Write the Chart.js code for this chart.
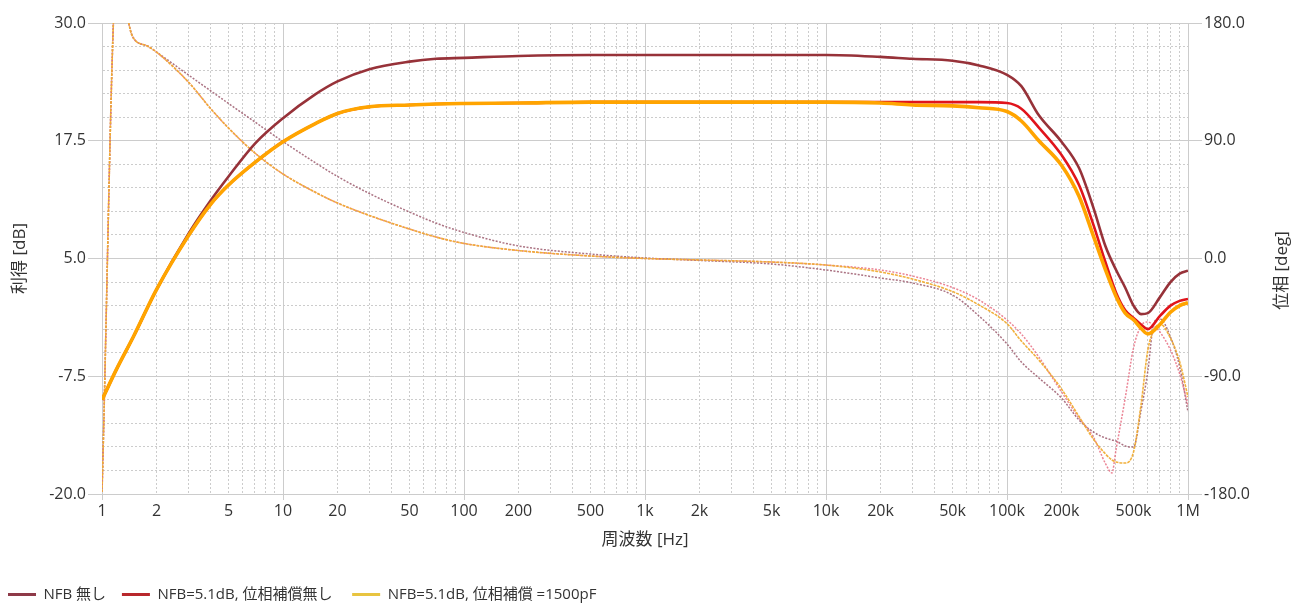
<!DOCTYPE html>
<html lang="ja">
<head>
<meta charset="utf-8">
<title>周波数特性</title>
<script src="https://cdn.jsdelivr.net/npm/chart.js@4/dist/chart.umd.min.js"></script>
<style>
  html, body { margin: 0; padding: 0; background: #ffffff; }
  #wrap { position: relative; width: 1293px; height: 603px; }
</style>
</head>
<body>
<div id="wrap"><canvas id="bode" width="1293" height="603"></canvas></div>
<script>
// ---- measured data -------------------------------------------------------
const seriesNames = ['NFB 無し', 'NFB=5.1dB, 位相補償無し', 'NFB=5.1dB, 位相補償 =1500pF'];

// gain [dB]
const gainFreq = [1, 1.2, 1.5, 2, 3, 4, 5, 7, 10, 15, 20, 30, 50, 70, 100, 200, 500,
  1e3, 2e3, 5e3, 1e4, 2e4, 3e4, 5e4, 7e4, 1e5, 1.2e5, 1.5e5, 2e5, 2.5e5, 3e5, 3.5e5,
  4e5, 4.5e5, 5e5, 5.5e5, 6e5, 7e5, 8e5, 9e5, 1e6];
const gainNoNfb = [-10.0, -6.8, -3.2, 1.7, 7.6, 11.2, 13.7, 17.2, 19.9, 22.4, 23.8, 25.1, 25.9, 26.2,
  26.3, 26.5, 26.6, 26.6, 26.6, 26.6, 26.6, 26.4, 26.2, 26.0, 25.5,
  24.5, 23.3, 20.2, 17.4, 14.6, 10.4, 6.3, 3.8, 1.9, 0.0, -0.9, -0.8, 0.9, 2.5, 3.4, 3.7];
const gainNfb = [-10.0, -6.8, -3.2, 1.7, 7.4, 10.8, 12.8, 15.2, 17.4, 19.3, 20.4, 21.1, 21.3, 21.4,
  21.45, 21.5, 21.6, 21.6, 21.6, 21.6, 21.6, 21.6, 21.6, 21.6, 21.6,
  21.5, 20.9, 18.9, 16.0, 12.8, 8.6, 4.6, 1.4, -0.5, -1.3, -2.0, -2.5, -1.1, 0.0, 0.5, 0.7];
const gainNfbComp = [-10.0, -6.8, -3.2, 1.7, 7.4, 10.8, 12.8, 15.2, 17.4, 19.3, 20.4, 21.1, 21.3, 21.4,
  21.45, 21.5, 21.6, 21.6, 21.6, 21.6, 21.6, 21.5, 21.3, 21.2, 21.0,
  20.6, 19.6, 17.5, 14.9, 11.6, 7.4, 3.8, 1.0, -0.8, -1.5, -2.4, -3.0, -2.0, -0.7, 0.0, 0.3];

// phase [deg]
const phaseFreq = [1, 1.21, 1.47, 1.78, 2, 3, 4, 5, 7, 10, 15, 20, 30, 50, 70, 100, 200, 500,
  1e3, 2e3, 5e3, 1e4, 2e4, 3e4, 5e4, 7e4, 1e5, 1.2e5, 1.5e5, 2e5, 2.5e5, 3e5, 3.5e5, 3.8e5,
  4e5, 4.5e5, 5e5, 5.5e5, 6e5, 6.5e5, 7e5, 8e5, 9e5, 1e6];
const phaseNoNfb = [-178.5, 220.5, 170.1, 162.4, 157.8, 140.3, 128.0, 118.5, 104.3, 89.4, 73.4, 62.7,
  49.7, 35.5, 27.1, 19.9, 9.6, 3.4, 0.4, -1.5, -4.2, -8.8, -14.9, -18.7, -27.9, -43.9,
  -65.3, -79.1, -91.3, -106.6, -123.4, -132.6, -137.2, -138.7, -139.5, -143.3, -144.1,
  -116.2, -86.0, -48.5, -46.2, -60.0, -82.9, -117.3];
const phaseNfb = [-178.5, 220.5, 170.1, 162.4, 157.8, 134.9, 114.3, 99.7, 80.6, 64.6, 50.8, 42.4,
  32.9, 22.5, 16.4, 11.5, 6.1, 1.9, 0.0, -1.1, -2.7, -5.0, -8.8, -13.4, -22.2, -31.7,
  -47.0, -57.7, -75.3, -102.0, -121.9, -136.4, -156.7, -163.9, -146.4, -106.6, -68.4,
  -51.6, -48.5, -51.6, -56.2, -69.9, -88.3, -112.0];
const phaseNfbComp = [-178.5, 220.5, 170.1, 162.4, 157.8, 134.9, 114.3, 99.7, 80.6, 64.6, 50.8, 42.4,
  32.9, 22.5, 16.4, 11.5, 6.1, 1.9, 0.0, -1.1, -2.7, -5.0, -10.3, -15.7, -25.3, -35.5,
  -49.8, -63.1, -77.6, -99.7, -120.8, -138.0, -149.4, -154.0, -155.5, -156.3, -147.9,
  -112.0, -69.9, -54.6, -50.1, -60.8, -79.1, -105.9];

// axis labels
const freqLabelValues = [1, 2, 5, 10, 20, 50, 100, 200, 500, 1e3, 2e3, 5e3, 1e4, 2e4, 5e4, 1e5, 2e5, 5e5, 1e6];
const freqLabelTexts = ['1', '2', '5', '10', '20', '50', '100', '200', '500', '1k', '2k', '5k',
  '10k', '20k', '50k', '100k', '200k', '500k', '1M'];
const gainLabelValues = [-20, -7.5, 5, 17.5, 30];
const phaseLabelValues = [-180, -90, 0, 90, 180];

// ---- styling -------------------------------------------------------------
const FONT = "'Open Sans', 'Noto Sans CJK JP', sans-serif";
const TEXT = '#333333';
const GRID = '#cccccc';
const NONE = 'rgba(0,0,0,0)';
const legendColors = ['#8e3a48', '#b8282c', '#e8c440'];
const legendGaps = ['  ', '   ', ''];

const pts = (xs, ys) => xs.map((x, i) => ({ x, y: ys[i] }));
const near = (v, list) => list.some(a => Math.abs(a - v) <= 1e-6 * Math.max(1, Math.abs(a)));
const isDecade = v => Math.abs(Math.log10(v) - Math.round(Math.log10(v))) < 1e-9;

// grid positions: 1..9 per decade on x, 5 subdivisions per labelled step on y
const freqGrid = [];
for (let e = 0; e < 6; e++) for (let m = 1; m < 10; m++) freqGrid.push(+(m * Math.pow(10, e)).toPrecision(6));
freqGrid.push(1e6);
const gainGrid = Array.from({ length: 21 }, (_, i) => -20 + 2.5 * i);
const phaseGrid = Array.from({ length: 21 }, (_, i) => -180 + 18 * i);

const line = (label, data, axis, color, width, order, dash) => ({
  label, data, yAxisID: axis, borderColor: color, backgroundColor: color,
  borderWidth: width, borderDash: dash || [], order,
  pointRadius: 0, pointHoverRadius: 0, fill: false, cubicInterpolationMode: 'monotone'
});

// vertical phase title reading bottom-to-top beside the right axis
const phaseTitle = {
  id: 'phaseTitle',
  afterDraw(chart) {
    const s = chart.scales.yPhase;
    const ctx = chart.ctx;
    ctx.save();
    ctx.translate(s.right - 11, (s.top + s.bottom) / 2 + 12);
    ctx.rotate(-Math.PI / 2);
    ctx.textAlign = 'center';
    ctx.textBaseline = 'middle';
    ctx.fillStyle = TEXT;
    ctx.font = '17px ' + FONT;
    ctx.fillText('位相 [deg]', 0, 0);
    ctx.restore();
  }
};

new Chart(document.getElementById('bode'), {
  type: 'line',
  data: {
    datasets: [
      line(seriesNames[0], pts(gainFreq, gainNoNfb), 'yGain', '#973239', 2.6, 3),
      line(seriesNames[1], pts(gainFreq, gainNfb), 'yGain', '#e0141b', 2.6, 2),
      line(seriesNames[2], pts(gainFreq, gainNfbComp), 'yGain', '#ffa400', 3.6, 1),
      line(seriesNames[0] + ' 位相', pts(phaseFreq, phaseNoNfb), 'yPhase', 'rgba(150,80,100,0.8)', 1.5, 6, [2, 1.5]),
      line(seriesNames[1] + ' 位相', pts(phaseFreq, phaseNfb), 'yPhase', 'rgba(232,110,130,0.85)', 1.5, 5, [2, 1.5]),
      line(seriesNames[2] + ' 位相', pts(phaseFreq, phaseNfbComp), 'yPhase', 'rgba(240,172,50,0.95)', 1.6, 4, [3, 1])
    ]
  },
  options: {
    responsive: false,
    animation: false,
    events: [],
    layout: { padding: { top: 23, left: 0, right: 0, bottom: 0 } },
    plugins: {
      tooltip: { enabled: false },
      legend: {
        position: 'bottom',
        align: 'start',
        maxHeight: 24,
        labels: {
          boxWidth: 28,
          boxHeight: 3,
          padding: 8,
          color: TEXT,
          font: { family: FONT, size: 15 },
          generateLabels(chart) {
            const items = Chart.defaults.plugins.legend.labels.generateLabels(chart);
            return items
              .filter(it => it.datasetIndex < 3)
              .sort((a, b) => a.datasetIndex - b.datasetIndex)
              .map(it => Object.assign(it, {
                text: seriesNames[it.datasetIndex] + legendGaps[it.datasetIndex],
                fillStyle: legendColors[it.datasetIndex],
                strokeStyle: legendColors[it.datasetIndex],
                lineWidth: 0
              }));
          }
        }
      }
    },
    scales: {
      x: {
        type: 'logarithmic',
        min: 1,
        max: 1e6,
        afterBuildTicks(s) { s.ticks = freqGrid.map(v => ({ value: v })); },
        afterFit(s) { s.height = 603 - 494 - (s.chart.legend ? s.chart.legend.height : 0); },
        ticks: {
          autoSkip: false,
          maxRotation: 0,
          padding: 2,
          color: TEXT,
          font: { family: FONT, size: 16 },
          callback(v) {
            const i = freqLabelValues.findIndex(a => Math.abs(a - v) <= 1e-6 * a);
            return i >= 0 ? freqLabelTexts[i] : '';
          }
        },
        grid: {
          color: GRID,
          lineWidth: 1,
          tickLength: 6,
          tickColor: c => (c.tick && isDecade(c.tick.value)) ? GRID : NONE
        },
        border: { color: GRID, dash: c => (c.tick && !isDecade(c.tick.value)) ? [2, 2] : [] },
        title: { display: true, text: '周波数 [Hz]', color: TEXT, font: { family: FONT, size: 17 }, padding: { top: 0, bottom: 29 } }
      },
      yGain: {
        type: 'linear',
        position: 'left',
        min: -20,
        max: 30,
        afterBuildTicks(s) { s.ticks = gainGrid.map(v => ({ value: v })); },
        afterFit(s) { s.width = 102; },
        ticks: {
          autoSkip: false,
          padding: 2,
          color: TEXT,
          font: { family: FONT, size: 16 },
          callback: v => near(v, gainLabelValues) ? Number(v).toFixed(1) : ''
        },
        grid: {
          color: GRID,
          lineWidth: 1,
          tickLength: 14,
          tickColor: c => (c.tick && near(c.tick.value, gainLabelValues)) ? GRID : NONE
        },
        border: { color: GRID, dash: c => (c.tick && !near(c.tick.value, gainLabelValues)) ? [2, 2] : [] },
        title: { display: true, text: '利得 [dB]', color: TEXT, font: { family: FONT, size: 17 }, padding: { top: 10, bottom: 0 } }
      },
      yPhase: {
        type: 'linear',
        position: 'right',
        min: -180,
        max: 180,
        afterBuildTicks(s) { s.ticks = phaseGrid.map(v => ({ value: v })); },
        afterFit(s) { s.width = 105; },
        ticks: {
          autoSkip: false,
          padding: 2,
          color: TEXT,
          font: { family: FONT, size: 16 },
          callback: v => near(v, phaseLabelValues) ? Number(v).toFixed(1) : ''
        },
        grid: {
          drawOnChartArea: false,
          color: GRID,
          tickLength: 14,
          tickColor: c => (c.tick && near(c.tick.value, phaseLabelValues)) ? GRID : NONE
        },
        border: { color: GRID },
        title: { display: false }
      }
    }
  },
  plugins: [phaseTitle]
});
</script>
</body>
</html>
